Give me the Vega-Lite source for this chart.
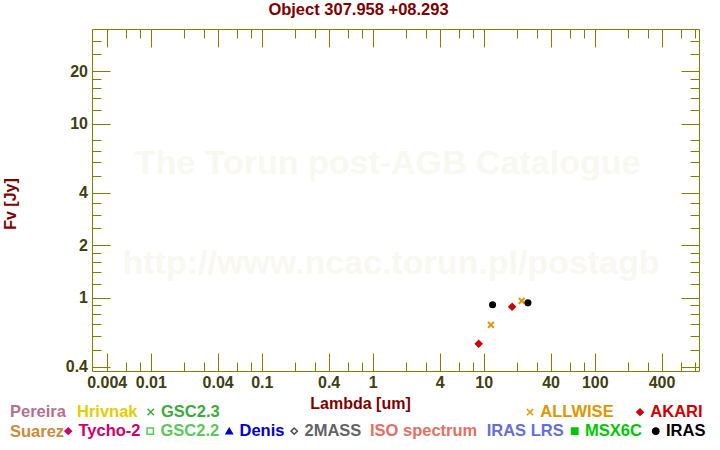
{
  "$schema": "https://vega.github.io/schema/vega-lite/v6.json",
  "width": 607,
  "height": 342,
  "autosize": "none",
  "padding": {"left": 92, "top": 29, "right": 21, "bottom": 79},
  "title": {"text": "Object 307.958 +08.293", "color": "#800000", "font": "Liberation Sans", "fontSize": 16.5, "fontWeight": "bold", "anchor": "middle", "dx": -37, "offset": 10},
  "datasets": {
    "phot": [
      {"catalog": "AKARI", "lam": 9.0, "flux": 0.542},
      {"catalog": "AKARI", "lam": 18.0, "flux": 0.884},
      {"catalog": "ALLWISE", "lam": 11.6, "flux": 0.697},
      {"catalog": "ALLWISE", "lam": 22.0, "flux": 0.957},
      {"catalog": "IRAS", "lam": 12.0, "flux": 0.908},
      {"catalog": "IRAS", "lam": 25.0, "flux": 0.932}
    ]
  },
  "layer": [
    {
      "data": {"values": [{"label": "The Torun post-AGB Catalogue"}]},
      "mark": {"type": "text", "font": "Liberation Sans", "fontWeight": "bold", "fontSize": 34, "color": "#f8f8f1", "align": "center", "baseline": "middle"},
      "encoding": {
        "x": {"datum": 1.36, "type": "quantitative", "scale": {"type": "log", "domain": [0.00295, 870], "nice": false, "zero": false}, "axis": null},
        "y": {"datum": 5.86, "type": "quantitative", "scale": {"type": "log", "domain": [0.378, 35], "nice": false, "zero": false}, "axis": null},
        "text": {"field": "label"}
      }
    },
    {
      "data": {"values": [{"label": "http://www.ncac.torun.pl/postagb"}]},
      "mark": {"type": "text", "font": "Liberation Sans", "fontWeight": "bold", "fontSize": 34, "color": "#f8f8f1", "align": "center", "baseline": "middle"},
      "encoding": {
        "x": {"datum": 1.46, "type": "quantitative", "scale": {"type": "log", "domain": [0.00295, 870], "nice": false, "zero": false}, "axis": null},
        "y": {"datum": 1.569, "type": "quantitative", "scale": {"type": "log", "domain": [0.378, 35], "nice": false, "zero": false}, "axis": null},
        "text": {"field": "label"}
      }
    },
    {
      "data": {"values": []},
      "mark": {"type": "point", "opacity": 1},
      "encoding": {
        "x": {"field": "lam", "type": "quantitative", "scale": {"type": "log", "domain": [0.00295, 870], "nice": false, "zero": false},
          "axis": {"orient": "bottom", "values": [0.006, 0.008, 0.02, 0.03, 0.06, 0.08, 0.2, 0.3, 0.6, 0.8, 2, 3, 6, 8, 20, 30, 60, 80, 200, 300, 600, 800], "tickSize": -9, "labels": false, "domain": false, "title": null}},
        "y": {"field": "flux", "type": "quantitative", "scale": {"type": "log", "domain": [0.378, 35], "nice": false, "zero": false},
          "axis": {"orient": "left", "values": [0.5, 0.6, 0.7, 0.8, 0.9, 1.2, 1.4, 1.6, 1.8, 2.5, 3, 3.5, 5, 6, 7, 8, 12, 14, 16, 18, 25, 30], "tickSize": -9, "labels": false, "domain": false, "title": null}}
      }
    },
    {
      "data": {"values": []},
      "mark": {"type": "point", "opacity": 1},
      "encoding": {
        "x": {"field": "lam", "type": "quantitative", "scale": {"type": "log", "domain": [0.00295, 870], "nice": false, "zero": false},
          "axis": {"orient": "top", "values": [0.004, 0.01, 0.04, 0.1, 0.4, 1, 4, 10, 40, 100, 400], "tickSize": -18, "labels": false, "domain": true, "title": null}},
        "y": {"field": "flux", "type": "quantitative", "scale": {"type": "log", "domain": [0.378, 35], "nice": false, "zero": false},
          "axis": {"orient": "right", "values": [0.4, 1, 2, 4, 10, 20], "tickSize": -18, "labels": false, "domain": true, "title": null}}
      }
    },
    {
      "data": {"values": []},
      "mark": {"type": "point", "opacity": 1},
      "encoding": {
        "x": {"field": "lam", "type": "quantitative", "scale": {"type": "log", "domain": [0.00295, 870], "nice": false, "zero": false},
          "axis": {"orient": "top", "values": [0.006, 0.008, 0.02, 0.03, 0.06, 0.08, 0.2, 0.3, 0.6, 0.8, 2, 3, 6, 8, 20, 30, 60, 80, 200, 300, 600, 800], "tickSize": -9, "labels": false, "domain": false, "title": null}},
        "y": {"field": "flux", "type": "quantitative", "scale": {"type": "log", "domain": [0.378, 35], "nice": false, "zero": false},
          "axis": {"orient": "right", "values": [0.5, 0.6, 0.7, 0.8, 0.9, 1.2, 1.4, 1.6, 1.8, 2.5, 3, 3.5, 5, 6, 7, 8, 12, 14, 16, 18, 25, 30], "tickSize": -9, "labels": false, "domain": false, "title": null}}
      }
    },
    {
      "data": {"name": "phot"},
      "transform": [{"filter": "datum.catalog === 'AKARI'"}],
      "mark": {"type": "point", "opacity": 1, "shape": "diamond", "filled": true, "color": "#d20000", "size": 72},
      "encoding": {
        "x": {"field": "lam", "type": "quantitative", "scale": {"type": "log", "domain": [0.00295, 870], "nice": false, "zero": false},
          "axis": {"orient": "bottom", "values": [0.004, 0.01, 0.04, 0.1, 0.4, 1, 4, 10, 40, 100, 400], "format": "~g", "tickSize": -18, "labelPadding": 21.5, "labelFlush": false, "labelOverlap": false, "domain": true,
            "title": "Lambda [um]", "titleX": 268, "titleY": 37.5, "titleBaseline": "alphabetic", "titleAlign": "center"}},
        "y": {"field": "flux", "type": "quantitative", "scale": {"type": "log", "domain": [0.378, 35], "nice": false, "zero": false},
          "axis": {"orient": "left", "values": [0.4, 1, 2, 4, 10, 20], "format": "~g", "tickSize": -18, "labelPadding": 22.5, "labelOverlap": false, "domain": true,
            "title": "Fv [Jy]", "titleX": -76.5, "titleY": 174.5, "titleAngle": -90, "titleBaseline": "alphabetic", "titleAlign": "center"}}
      }
    },
    {
      "data": {"name": "phot"},
      "transform": [{"filter": "datum.catalog === 'ALLWISE'"}],
      "mark": {"type": "point", "opacity": 1, "shape": "M-1,-1L1,1M-1,1L1,-1", "filled": false, "color": "#e09600", "size": 34, "strokeWidth": 2},
      "encoding": {
        "x": {"field": "lam", "type": "quantitative", "scale": {"type": "log", "domain": [0.00295, 870], "nice": false, "zero": false}, "axis": null},
        "y": {"field": "flux", "type": "quantitative", "scale": {"type": "log", "domain": [0.378, 35], "nice": false, "zero": false}, "axis": null}
      }
    },
    {
      "data": {"name": "phot"},
      "transform": [{"filter": "datum.catalog === 'IRAS'"}],
      "mark": {"type": "point", "opacity": 1, "shape": "circle", "filled": true, "color": "#000000", "size": 50},
      "encoding": {
        "x": {"field": "lam", "type": "quantitative", "scale": {"type": "log", "domain": [0.00295, 870], "nice": false, "zero": false}, "axis": null},
        "y": {"field": "flux", "type": "quantitative", "scale": {"type": "log", "domain": [0.378, 35], "nice": false, "zero": false}, "axis": null}
      }
    },
    {
      "data": {"values": []},
      "mark": {"type": "point", "opacity": 1},
      "encoding": {
        "color": {"field": "catalog", "type": "nominal", "scale": {"domain": ["Pereira", "Hrivnak", "Suarez"], "range": ["#b57090", "#e6cc00", "#c88c3c"]},
          "legend": {"title": null, "orient": "none", "legendX": -82, "legendY": 374.75, "direction": "horizontal", "columns": 2, "columnPadding": 11, "rowPadding": 2.5, "symbolOpacity": 0, "labelOffset": -16.5,
            "labelColor": {"expr": "datum.value === 'Pereira' ? '#b57090' : datum.value === 'Hrivnak' ? '#e6cc00' : '#c88c3c'"}}}
      }
    },
    {
      "data": {"values": []},
      "mark": {"type": "point", "opacity": 1},
      "encoding": {
        "shape": {"field": "catalog", "type": "nominal", "scale": {"domain": ["GSC2.3"], "range": ["M-1,-1L1,1M-1,1L1,-1"]},
          "legend": {"title": null, "orient": "none", "legendX": 50.5, "legendY": 374.75, "direction": "horizontal", "labelColor": "#3caa3c"}},
        "fill": {"field": "catalog", "type": "nominal", "scale": {"domain": ["GSC2.3"], "range": ["transparent"]},
          "legend": {"title": null, "orient": "none", "legendX": 50.5, "legendY": 374.75, "direction": "horizontal", "labelColor": "#3caa3c"}},
        "stroke": {"field": "catalog", "type": "nominal", "scale": {"domain": ["GSC2.3"], "range": ["#3caa3c"]},
          "legend": {"title": null, "orient": "none", "legendX": 50.5, "legendY": 374.75, "direction": "horizontal", "labelColor": "#3caa3c"}}
      }
    },
    {
      "data": {"values": []},
      "mark": {"type": "point", "opacity": 1},
      "encoding": {
        "shape": {"field": "catalog", "type": "nominal", "scale": {"domain": ["ALLWISE", "AKARI"], "range": ["M-1,-1L1,1M-1,1L1,-1", "diamond"]},
          "legend": {"title": null, "orient": "none", "legendX": 429.8, "legendY": 374.75, "direction": "horizontal", "columnPadding": 18,
            "labelColor": {"expr": "datum.value === 'ALLWISE' ? '#e09600' : '#d20000'"}}},
        "fill": {"field": "catalog", "type": "nominal", "scale": {"domain": ["ALLWISE", "AKARI"], "range": ["transparent", "#d20000"]},
          "legend": {"title": null, "orient": "none", "legendX": 429.8, "legendY": 374.75, "direction": "horizontal", "columnPadding": 18,
            "labelColor": {"expr": "datum.value === 'ALLWISE' ? '#e09600' : '#d20000'"}}},
        "stroke": {"field": "catalog", "type": "nominal", "scale": {"domain": ["ALLWISE", "AKARI"], "range": ["#e09600", "#d20000"]},
          "legend": {"title": null, "orient": "none", "legendX": 429.8, "legendY": 374.75, "direction": "horizontal", "columnPadding": 18,
            "labelColor": {"expr": "datum.value === 'ALLWISE' ? '#e09600' : '#d20000'"}}}
      }
    },
    {
      "data": {"values": []},
      "mark": {"type": "point", "opacity": 1},
      "encoding": {
        "shape": {"field": "catalog", "type": "nominal", "scale": {"domain": ["Tycho-2", "GSC2.2", "Denis", "2MASS"], "range": ["diamond", "square", "triangle-up", "diamond"]},
          "legend": {"title": null, "orient": "none", "legendX": -32, "legendY": 393.75, "direction": "horizontal", "columnPadding": 1,
            "labelColor": {"expr": "datum.value === 'Tycho-2' ? '#d20064' : datum.value === 'GSC2.2' ? '#5ac85a' : datum.value === 'Denis' ? '#0000d2' : '#646464'"}}},
        "fill": {"field": "catalog", "type": "nominal", "scale": {"domain": ["Tycho-2", "GSC2.2", "Denis", "2MASS"], "range": ["#d20064", "transparent", "#0000d2", "transparent"]},
          "legend": {"title": null, "orient": "none", "legendX": -32, "legendY": 393.75, "direction": "horizontal", "columnPadding": 1,
            "labelColor": {"expr": "datum.value === 'Tycho-2' ? '#d20064' : datum.value === 'GSC2.2' ? '#5ac85a' : datum.value === 'Denis' ? '#0000d2' : '#646464'"}}},
        "stroke": {"field": "catalog", "type": "nominal", "scale": {"domain": ["Tycho-2", "GSC2.2", "Denis", "2MASS"], "range": ["#d20064", "#5ac85a", "#0000d2", "#505050"]},
          "legend": {"title": null, "orient": "none", "legendX": -32, "legendY": 393.75, "direction": "horizontal", "columnPadding": 1,
            "labelColor": {"expr": "datum.value === 'Tycho-2' ? '#d20064' : datum.value === 'GSC2.2' ? '#5ac85a' : datum.value === 'Denis' ? '#0000d2' : '#646464'"}}}
      }
    },
    {
      "data": {"values": []},
      "mark": {"type": "point", "opacity": 1},
      "encoding": {
        "color": {"field": "catalog", "type": "nominal", "scale": {"domain": ["ISO spectrum", "IRAS LRS"], "range": ["#e66e64", "#646edc"]},
          "legend": {"title": null, "orient": "none", "legendX": 278, "legendY": 393.75, "direction": "horizontal", "columnPadding": 8.7, "symbolOpacity": 0, "labelOffset": -16.5,
            "labelColor": {"expr": "datum.value === 'ISO spectrum' ? '#e66e64' : '#646edc'"}}}
      }
    },
    {
      "data": {"values": []},
      "mark": {"type": "point", "opacity": 1},
      "encoding": {
        "shape": {"field": "catalog", "type": "nominal", "scale": {"domain": ["MSX6C", "IRAS"], "range": ["square", "circle"]},
          "legend": {"title": null, "orient": "none", "legendX": 474.5, "legendY": 393.75, "direction": "horizontal", "columnPadding": 5,
            "labelColor": {"expr": "datum.value === 'MSX6C' ? '#00c800' : '#000000'"}}},
        "fill": {"field": "catalog", "type": "nominal", "scale": {"domain": ["MSX6C", "IRAS"], "range": ["#00c800", "#000000"]},
          "legend": {"title": null, "orient": "none", "legendX": 474.5, "legendY": 393.75, "direction": "horizontal", "columnPadding": 5,
            "labelColor": {"expr": "datum.value === 'MSX6C' ? '#00c800' : '#000000'"}}},
        "stroke": {"field": "catalog", "type": "nominal", "scale": {"domain": ["MSX6C", "IRAS"], "range": ["#00c800", "#000000"]},
          "legend": {"title": null, "orient": "none", "legendX": 474.5, "legendY": 393.75, "direction": "horizontal", "columnPadding": 5,
            "labelColor": {"expr": "datum.value === 'MSX6C' ? '#00c800' : '#000000'"}}}
      }
    }
  ],
  "resolve": {
    "scale": {"color": "independent", "fill": "independent", "stroke": "independent", "shape": "independent"},
    "axis": {"x": "independent", "y": "independent"},
    "legend": {"color": "independent", "fill": "independent", "stroke": "independent", "shape": "independent"}
  },
  "config": {
    "view": {"stroke": null},
    "font": "Liberation Sans",
    "axis": {"grid": false, "labelFont": "Liberation Sans", "labelFontWeight": "bold", "labelFontSize": 16, "labelColor": "#404010",
      "domainColor": "#808000", "tickColor": "#808000", "domainWidth": 1, "tickWidth": 1,
      "titleFont": "Liberation Sans", "titleFontSize": 16, "titleFontWeight": "bold", "titleColor": "#800000"},
    "legend": {"labelFont": "Liberation Sans", "labelFontWeight": "bold", "labelFontSize": 16.5, "padding": 0, "symbolSize": 40, "symbolStrokeWidth": 1.5, "labelOffset": 2, "labelLimit": 300}
  }
}
